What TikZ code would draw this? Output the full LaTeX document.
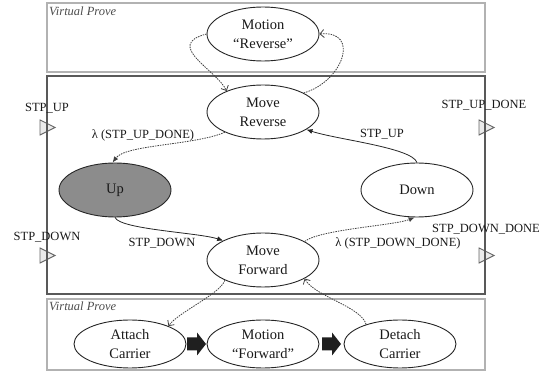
\documentclass[tikz,border=0pt]{standalone}
\usepackage{fontspec}
\setmainfont{Liberation Serif}
\usetikzlibrary{shapes.geometric,arrows.meta,calc}
\begin{document}
\begin{tikzpicture}[x=1pt,y=1pt,
  st/.style={ellipse,draw=black!85,line width=0.9pt,minimum width=112pt,minimum height=54pt,inner sep=0pt,align=center,text=black!90,font=\fontsize{14.5}{19}\selectfont},
  stlow/.style={st,minimum height=48pt},
  lbl/.style={font=\fontsize{12.5}{14}\selectfont,inner sep=0pt,text=black!90},
  vp/.style={font=\fontsize{12.5}{14}\selectfont\itshape,text=black!70,inner sep=0pt,anchor=west},
  sol/.style={draw=black!85,line width=0.8pt,-{Latex[length=6pt,width=5pt]}},
  dsh/.style={draw=black!75,line width=0.8pt,dash pattern=on 1.5pt off 1pt,-{Latex[length=6pt,width=5pt]}},
  dsho/.style={draw=black!75,line width=0.8pt,dash pattern=on 1.5pt off 1pt,-{Straight Barb[length=4pt,width=8pt]}},
  port/.style={draw=black!60,fill=black!8,line width=0.9pt},
  bigarrow/.style={fill=black!88}
]
\useasboundingbox (0,0) rectangle (547,-371);

% virtual prove boxes
\draw[black!30,line width=1.2pt] (47,-3) rectangle (485,-72);
\draw[black!30,line width=1.2pt] (47,-299) rectangle (485,-370);
\node[vp] (vp1) at (49,-11) {Virtual Prove};
\node[vp] (vp2) at (49,-306) {Virtual Prove};

% ports
\draw[port] (40,-120) -- (55,-127.5) -- (40,-135) -- cycle;
\draw[port] (40,-248) -- (55,-255.5) -- (40,-263) -- cycle;
\draw[port] (479,-120) -- (494,-127.5) -- (479,-135) -- cycle;
\draw[port] (479,-248) -- (494,-255.5) -- (479,-263) -- cycle;

% main box
\draw[black!65,line width=1.4pt] (47,-76) rectangle (485,-294);

% states
\node[st] (MRv) at (263,-34) {Motion\\“Reverse”};
\node[st] (MRev) at (263,-112) {Move\\Reverse};
\node[st,fill=black!45] (Up) at (115,-190) {Up};
\node[st] (Down) at (417,-190) {Down};
\node[st] (MFwd) at (263,-260) {Move\\Forward};
\node[stlow] (AC) at (130,-344) {Attach\\Carrier};
\node[stlow] (MoF) at (263,-344) {Motion\\“Forward”};
\node[stlow] (DC) at (400,-344) {Detach\\Carrier};

% labels
\node[lbl] (l1) at (47,-108) {STP\_UP};
\node[lbl] (l2) at (47,-237) {STP\_DOWN};
\node[lbl] (l3) at (484,-105) {STP\_UP\_DONE};
\node[lbl] (l4) at (486,-229) {STP\_DOWN\_DONE};
\node[lbl] (l5) at (143,-135) {λ (STP\_UP\_DONE)};
\node[lbl] (l6) at (382,-134) {STP\_UP};
\node[lbl] (l7) at (162,-243) {STP\_DOWN};
\node[lbl] (l8) at (398,-243) {λ (STP\_DOWN\_DONE)};

% connectors
\draw[dsho] (MRv.west) .. controls +(-43,-11) and +(-10,21) .. (MRev.150);
\draw[dsho] (MRev.25) .. controls +(40,12) and +(41,4) .. (MRv.east);
\draw[dsh] (MRev.208) .. controls +(-30,-13) and +(13,18) .. (Up.95);
\draw[sol] (Down.north) .. controls +(-5,15) and +(30,-10) .. (MRev.-22);
\draw[sol] (Up.south) .. controls +(5,-12) and +(-25,8) .. (MFwd.154);
\draw[dsh] (MFwd.24) .. controls +(15,12) and +(-20,-8) .. (Down.265);
\draw[dsho] (MFwd.208) .. controls +(-5,-14) and +(10,14) .. (AC.25);
\draw[dsho] (DC.150) .. controls +(-5,18) and +(10,-18) .. (MFwd.-24);

% big arrows
\fill[bigarrow] ($(AC.east)!0.5!(MoF.west)$) ++(-9.5,6.5) -- ++(10,0) -- ++(0,5) -- ++(9,-11.5) -- ++(-9,-11.5) -- ++(0,5) -- ++(-10,0) -- cycle;
\fill[bigarrow] ($(MoF.east)!0.5!(DC.west)$) ++(-9.5,6.5) -- ++(10,0) -- ++(0,5) -- ++(9,-11.5) -- ++(-9,-11.5) -- ++(0,5) -- ++(-10,0) -- cycle;
\end{tikzpicture}
\end{document}
